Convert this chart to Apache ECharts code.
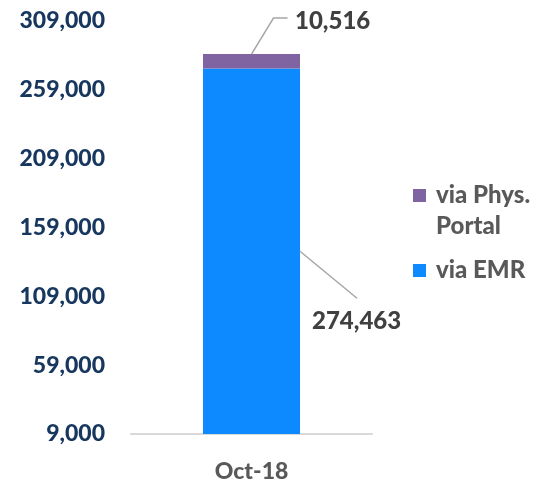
<!DOCTYPE html>
<html>
<head>
<meta charset="utf-8">
<script src="https://cdn.jsdelivr.net/npm/echarts@6/dist/echarts.min.js"></script>
<style>
  html, body { margin: 0; padding: 0; background: #fff; }
  #chart { width: 535px; height: 483px; }
</style>
</head>
<body>
<div id="chart"></div>
<script>
// 数据
var categories = ['Oct-18']
var emrValues = [274463]
var portalValues = [10516]
var seriesNames = ['via EMR', 'via Phys. Portal']
var axisMin = 9000
var axisMax = 309000
var axisStep = 50000

var myChart = echarts.init(document.getElementById('chart'))

var fontFam = 'Lato, "Open Sans", sans-serif'
var fw = 900
var barW = 97

function fmt (v) {
  return echarts.format.addCommas(v)
}

// 引导线数据：类目索引, EMR, Portal
var guideData = categories.map(function (c, i) {
  return [i, emrValues[i], portalValues[i]]
})

var option = {
  animation: false,
  grid: {
    left: 131,
    right: 163,
    top: 21,
    bottom: 47
  },
  legend: [
    {
      data: ['via Phys. Portal'],
      orient: 'vertical',
      left: 413,
      top: 149,
      padding: 0,
      icon: 'rect',
      itemWidth: 13,
      itemHeight: 13,
      formatter: function () { return '\nvia Phys.\nPortal' },
      textStyle: {
        color: '#595959',
        fontFamily: fontFam,
        fontWeight: fw,
        fontSize: 24,
        lineHeight: 31,
        padding: [0, 0, 0, 5]
      }
    },
    {
      data: ['via EMR'],
      orient: 'vertical',
      left: 413,
      top: 255,
      padding: 0,
      icon: 'rect',
      itemWidth: 13,
      itemHeight: 13,
      textStyle: {
        color: '#595959',
        fontFamily: fontFam,
        fontWeight: fw,
        fontSize: 24,
        lineHeight: 31,
        padding: [0, 0, 0, 5]
      }
    }
  ],
  xAxis: {
    type: 'category',
    data: categories,
    axisTick: { show: false },
    axisLine: { lineStyle: { color: '#d9d9d9', width: 2 } },
    axisLabel: {
      margin: 26,
      color: '#595959',
      fontFamily: fontFam,
      fontWeight: fw,
      fontSize: 23
    }
  },
  yAxis: {
    type: 'value',
    min: axisMin,
    max: axisMax,
    interval: axisStep,
    splitLine: { show: false },
    axisLine: { show: false },
    axisTick: { show: false },
    axisLabel: {
      margin: 26,
      color: '#17375e',
      fontFamily: fontFam,
      fontWeight: fw,
      fontSize: 23,
      formatter: function (v) { return fmt(v) }
    }
  },
  series: [
    {
      name: seriesNames[0],
      type: 'bar',
      stack: 'total',
      barWidth: barW,
      clip: true,
      data: emrValues,
      itemStyle: { color: '#0d8aff' },
      label: {
        show: true,
        position: 'inside',
        color: '#404040',
        fontFamily: fontFam,
        fontWeight: fw,
        fontSize: 24,
        formatter: function (p) { return fmt(p.value) }
      },
      labelLayout: function (params) {
        var r = params.rect
        return {
          x: r.x + r.width + 12,
          y: r.y + r.height / 2 + 70,
          align: 'left',
          verticalAlign: 'middle'
        }
      }
    },
    {
      name: seriesNames[1],
      type: 'bar',
      stack: 'total',
      barWidth: barW,
      clip: true,
      data: portalValues,
      itemStyle: { color: '#8064a2' },
      label: {
        show: true,
        position: 'inside',
        color: '#404040',
        fontFamily: fontFam,
        fontWeight: fw,
        fontSize: 24,
        formatter: function (p) { return fmt(p.value) }
      },
      labelLayout: function (params) {
        var r = params.rect
        return {
          x: r.x + r.width - 5,
          y: r.y - 33,
          align: 'left',
          verticalAlign: 'middle'
        }
      }
    },
    {
      // 标签引导线
      type: 'custom',
      silent: true,
      z: 5,
      data: guideData,
      renderItem: function (params, api) {
        var ci = api.value(0)
        var emr = api.value(1)
        var portal = api.value(2)
        var top = api.coord([ci, emr + portal])
        var emrTop = api.coord([ci, emr])
        var base = api.coord([ci, axisMin])
        var cx = top[0]
        var half = barW / 2
        var midY = (emrTop[1] + base[1]) / 2
        var style = { stroke: '#a6a6a6', lineWidth: 1.5, fill: null }
        return {
          type: 'group',
          children: [
            {
              type: 'polyline',
              shape: { points: [[cx, top[1]], [cx + 22, top[1] - 36], [cx + 36, top[1] - 36]] },
              style: style
            },
            {
              type: 'polyline',
              shape: { points: [[cx + half, midY], [cx + half + 57, midY + 47]] },
              style: style
            }
          ]
        }
      }
    }
  ]
}

myChart.setOption(option)
</script>
</body>
</html>
